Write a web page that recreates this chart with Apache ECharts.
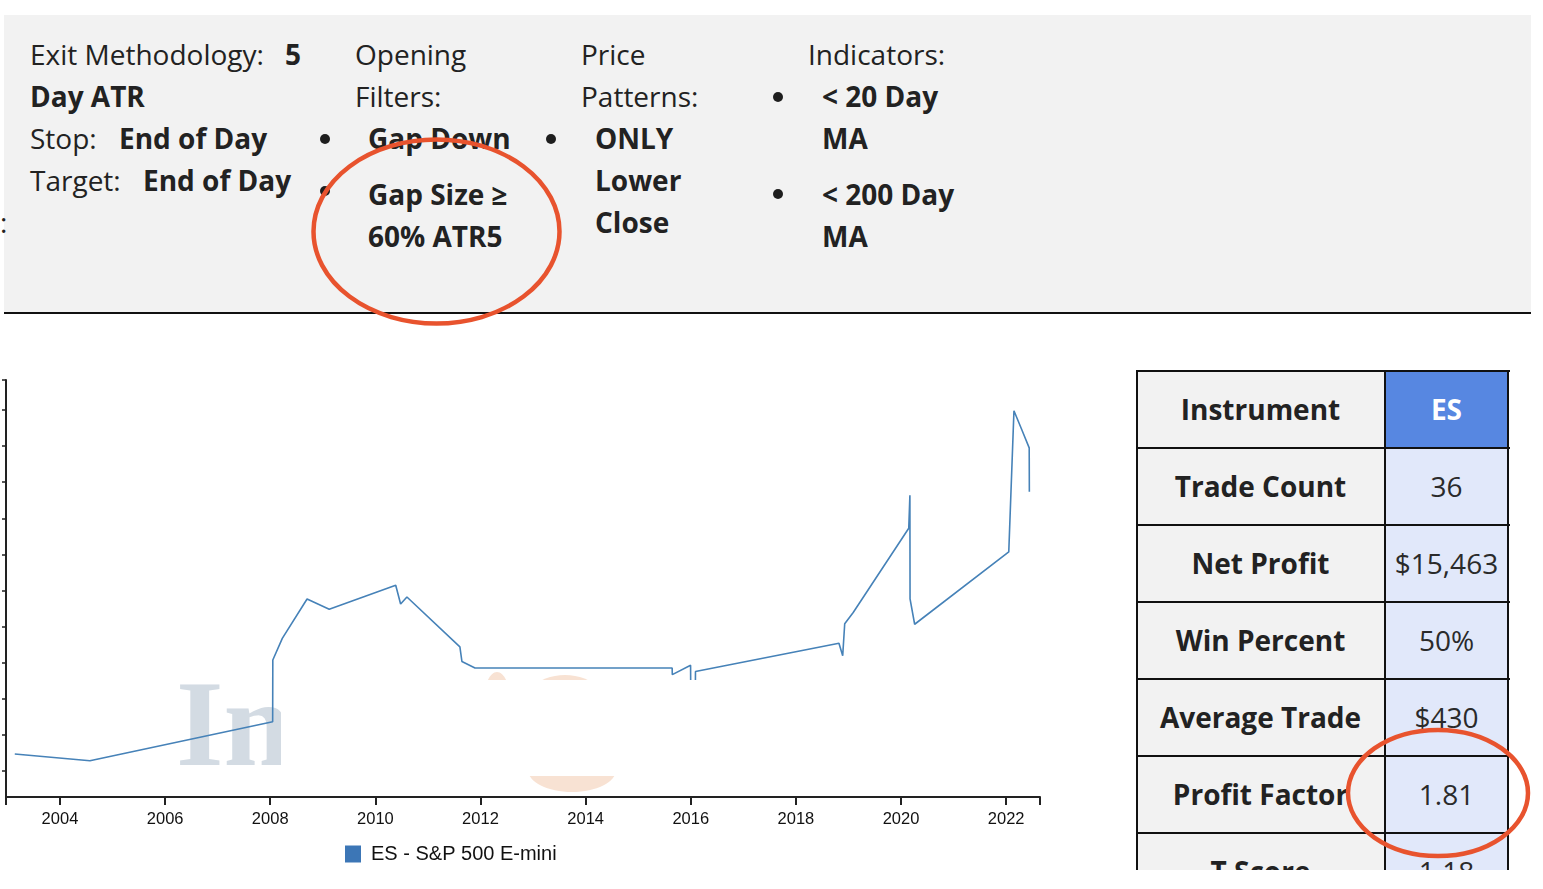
<!DOCTYPE html>
<html>
<head>
<meta charset="utf-8">
<script src="https://cdn.jsdelivr.net/npm/echarts@6/dist/echarts.min.js"></script>
<style>
html,body{margin:0;padding:0;background:#fff;width:1543px;height:889px;overflow:hidden;font-family:'Open Sans',sans-serif;color:#222;}
#panel{position:absolute;left:4px;top:15px;width:1527px;height:297px;background:#f2f2f2;border-bottom:2px solid #111;}
.t{position:absolute;font-size:28px;line-height:42px;white-space:nowrap;color:#222;}
.b{font-weight:700;}
.dot{position:absolute;width:10px;height:10px;border-radius:50%;background:#1e1e1e;}
#chart{position:absolute;left:0;top:330px;width:1120px;height:559px;}
#tw{position:absolute;left:1136px;top:370px;width:374px;height:500px;overflow:hidden;}
.cell{position:absolute;display:flex;align-items:center;justify-content:center;font-size:28px;color:#222;white-space:nowrap;}
.lab{background:#f2f2f2;font-weight:700;}
.val{background:#e1e8fa;color:#2a2a2a;}
.hl{position:absolute;background:#111;}
#ov{position:absolute;left:0;top:0;width:1543px;height:889px;pointer-events:none;}
</style>
</head>
<body>
<div id="panel"></div>
<!-- column 1 -->
<div class="t" style="left:30px;top:33px">Exit Methodology:</div>
<div class="t b" style="left:285px;top:33px">5</div>
<div class="t b" style="left:30px;top:75px">Day ATR</div>
<div class="t" style="left:30px;top:117px">Stop:</div>
<div class="t b" style="left:119px;top:117px">End of Day</div>
<div class="t" style="left:30px;top:159px">Target:</div>
<div class="t b" style="left:143px;top:159px">End of Day</div>
<div class="t" style="left:0px;top:201px">:</div>
<!-- column 2 -->
<div class="t" style="left:355px;top:33px">Opening</div>
<div class="t" style="left:355px;top:75px">Filters:</div>
<div class="dot" style="left:320px;top:134px"></div>
<div class="t b" style="left:368px;top:117px">Gap Down</div>
<div class="dot" style="left:320px;top:186px"></div>
<div class="t b" style="left:368px;top:173px">Gap Size ≥</div>
<div class="t b" style="left:368px;top:215px">60% ATR5</div>
<!-- column 3 -->
<div class="t" style="left:581px;top:33px">Price</div>
<div class="t" style="left:581px;top:75px">Patterns:</div>
<div class="dot" style="left:546px;top:134px"></div>
<div class="t b" style="left:595px;top:117px">ONLY</div>
<div class="t b" style="left:595px;top:159px">Lower</div>
<div class="t b" style="left:595px;top:201px">Close</div>
<!-- column 4 -->
<div class="t" style="left:808px;top:33px">Indicators:</div>
<div class="dot" style="left:773px;top:92px"></div>
<div class="t b" style="left:822px;top:75px">&lt; 20 Day</div>
<div class="t b" style="left:822px;top:117px">MA</div>
<div class="dot" style="left:773px;top:189px"></div>
<div class="t b" style="left:822px;top:173px">&lt; 200 Day</div>
<div class="t b" style="left:822px;top:215px">MA</div>

<div id="chart"></div>
<div id="tw"></div>

<svg id="ov" viewBox="0 0 1543 889">
  <ellipse cx="436.5" cy="231.5" rx="123" ry="92" fill="none" stroke="#e8532e" stroke-width="4.5"/>
  <ellipse cx="1438" cy="793" rx="90" ry="63" fill="none" stroke="#e8532e" stroke-width="4.5"/>
</svg>

<script>
// ---- data ----
const dates = ['2003-02-21','2004-07-27','2008-01-18','2008-01-19','2008-03-25','2008-09-13','2009-02-14',
  '2010-05-22','2010-06-25','2010-08-08','2011-08-11','2011-08-25','2011-11-24','2015-08-25','2015-08-26',
  '2015-12-31','2016-01-01','2016-02-02','2016-02-03','2018-10-27','2018-11-22','2018-12-06','2019-02-03',
  '2020-02-24','2020-03-03','2020-03-04','2020-04-05','2022-01-19','2022-02-24','2022-04-16','2022-06-10','2022-06-11'];
const equity = [940,570,2730,6150,7350,9530,8960,
  10290,9250,9640,6880,6070,5710,5710,5340,
  5860,4300,4300,5510,7080,6390,8160,8780,
  13450,15280,9530,8130,12140,19960,18970,17900,15463];
const yearTicks = ['2004','2006','2008','2010','2012','2014','2016','2018','2020','2022'];
const seriesName = 'ES - S&P 500 E-mini';
const tableLabels = ['Instrument','Trade Count','Net Profit','Win Percent','Average Trade','Profit Factor','T Score'];
const tableValues = ['ES','36','$15,463','50%','$430','1.81','1.18'];

// ---- table ----
(function(){
  const tw = document.getElementById('tw');
  const rowH = 77, leftW = 249, rightW = 123;
  let html = '';
  tableLabels.forEach((lab, i) => {
    const top = i * rowH;
    html += `<div class="cell lab" style="left:0;top:${top}px;width:${leftW}px;height:${rowH}px">${lab}</div>`;
    const hdr = i === 0;
    html += `<div class="cell ${hdr ? '' : 'val'}" style="left:${leftW}px;top:${top}px;width:${rightW}px;height:${rowH}px;${hdr ? 'background:#5787e1;color:#fff;font-weight:700;' : ''}">${tableValues[i]}</div>`;
  });
  for (let i = 0; i <= tableLabels.length; i++) {
    html += `<div class="hl" style="left:0;top:${i*rowH}px;width:374px;height:2px"></div>`;
  }
  [0, leftW - 1, leftW + rightW - 1].forEach(x => {
    html += `<div class="hl" style="left:${x}px;top:0;width:2px;height:600px"></div>`;
  });
  tw.innerHTML = html;
})();

// ---- chart ----
const chart = echarts.init(document.getElementById('chart'), null, {renderer: 'canvas'});
const font = "'Liberation Sans', Arial, Helvetica, sans-serif";
const ts = s => { const p = s.split('-').map(Number); return Date.UTC(p[0], p[1] - 1, p[2]); };
const xMin = Date.UTC(2002, 11, 22);
const xMax = Date.UTC(2022, 7, 24);
const yearTs = yearTicks.map(y => Date.UTC(+y, 0, 1));
const yTicks = [];
for (let v = 0; v <= 20000; v += 2000) yTicks.push(v);
const yMin = -1440, yMax = 21660;

chart.setOption({
  animation: false,
  grid: {left: 6, right: 80, top: 50, bottom: 92, containLabel: false},
  legend: {
    left: 345, top: 514, padding: 0, itemWidth: 16, itemHeight: 17, icon: 'rect',
    textStyle: {fontFamily: font, fontSize: 20, color: '#111', padding: [0, 0, 0, 5]},
    itemStyle: {color: '#3c76b6'},
    data: [seriesName]
  },
  xAxis: {
    type: 'value', min: xMin, max: xMax, scale: true,
    axisLine: {onZero: false, lineStyle: {color: '#222', width: 2}},
    axisTick: {show: true, length: 8, lineStyle: {color: '#222', width: 2}, customValues: [xMin].concat(yearTs, [xMax])},
    axisLabel: {customValues: yearTs, formatter: v => String(new Date(v).getUTCFullYear()),
      color: '#111', fontSize: 16.5, fontFamily: font, margin: 14},
    splitLine: {show: false}
  },
  yAxis: {
    type: 'value', min: yMin, max: yMax,
    axisLine: {show: true, onZero: false, lineStyle: {color: '#222', width: 2}},
    axisTick: {show: true, length: 4, lineStyle: {color: '#222', width: 1.5}, customValues: yTicks.concat([yMax])},
    axisLabel: {show: false},
    splitLine: {show: false}
  },
  series: [{
    type: 'line', name: seriesName,
    data: dates.map((d, i) => [ts(d), equity[i]]),
    showSymbol: false, symbol: 'none',
    lineStyle: {color: '#4682b8', width: 1.6},
    itemStyle: {color: '#4682b8'},
    emphasis: {disabled: true}
  }],
  graphic: [
    {type: 'text', z: 0, left: 176, top: 342,
      style: {text: 'In', font: "bold 122px 'Liberation Serif', 'DejaVu Serif', serif", fill: '#d3dbe3'}},
    {type: 'ellipse', z: 0, shape: {cx: 497, cy: 370, rx: 13, ry: 28}, style: {fill: '#f8e2d3'}},
    {type: 'ellipse', z: 0, shape: {cx: 565, cy: 390, rx: 50, ry: 45}, style: {fill: '#f8e2d3'}},
    {type: 'ellipse', z: 0, shape: {cx: 572, cy: 440, rx: 44, ry: 22}, style: {fill: '#f8e2d3'}},
    {type: 'rect', z: 100, shape: {x: 281, y: 350, width: 440, height: 96}, style: {fill: '#ffffff'}}
  ]
});
</script>
</body>
</html>
